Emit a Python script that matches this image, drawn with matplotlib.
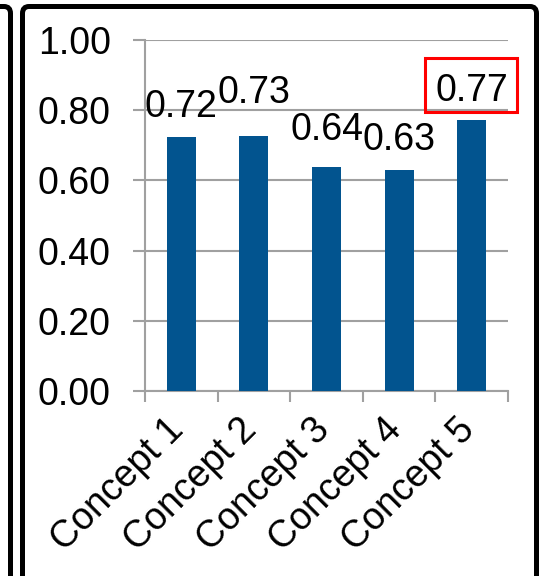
import matplotlib.pyplot as plt
import numpy as np
from matplotlib.patches import FancyBboxPatch, Rectangle
from matplotlib.transforms import ScaledTranslation

plt.rcParams['font.family'] = ['Liberation Sans', 'DejaVu Sans']

categories = ["Concept 1", "Concept 2", "Concept 3", "Concept 4", "Concept 5"]
values = [0.723, 0.727, 0.638, 0.630, 0.773]
labels = ["0.72", "0.73", "0.64", "0.63", "0.77"]
label_lift = [20, 33, 27, 20, 19]   # label baseline above bar top, px
y_ticks = [0.0, 0.2, 0.4, 0.6, 0.8, 1.0]

bar_color = "#02548F"
grid_color = "#A0A0A0"
fs = 27

fig = plt.figure(figsize=(5.41, 5.76), dpi=100)
ax = fig.add_axes([145 / 541, 185 / 576, 363 / 541, 351 / 576])

x = np.arange(len(categories))
ax.bar(x, values, width=0.4, color=bar_color, zorder=3)

ax.set_xlim(-0.5, len(categories) - 0.5)
ax.set_ylim(0, 1.0)
ax.set_yticks(y_ticks)
ax.set_yticklabels([f"{v:.2f}" for v in y_ticks], fontsize=fs)
ax.yaxis.grid(True, color=grid_color, lw=1.5, zorder=0)
ax.tick_params(axis='y', length=8.6, width=1.5, color=grid_color, pad=16)

ax.set_xticks(x)
ax.set_xticklabels(categories, fontsize=fs, rotation=45, ha='right', va='top')
ax.set_xticks(np.arange(len(categories) + 1) - 0.5, minor=True)
ax.tick_params(axis='x', which='major', length=0, pad=15)
ax.tick_params(axis='x', which='minor', length=8, width=1.5, color=grid_color)
shift = ScaledTranslation(10 / 100, 0, fig.dpi_scale_trans)
for lab in ax.get_xticklabels():
    lab.set_transform(lab.get_transform() + shift)

for s in ['top', 'right']:
    ax.spines[s].set_visible(False)
for s in ['left', 'bottom']:
    ax.spines[s].set_color(grid_color)
    ax.spines[s].set_linewidth(1.5)

texts = []
for xi, v, lab, lift in zip(x, values, labels, label_lift):
    t = ax.annotate(lab, (xi, v), xytext=(0, lift * 0.72), textcoords='offset points',
                    ha='center', va='baseline', fontsize=fs, zorder=4)
    texts.append(t)

# frames around the panel
fig.patches.append(FancyBboxPatch((22.5 / 541, -0.1), (536.5 - 22.5) / 541, (569.5 / 576) + 0.1,
                                  boxstyle="round,pad=0,rounding_size=0.012",
                                  transform=fig.transFigure, fill=False, ec='black', lw=3.6))
fig.patches.append(FancyBboxPatch((-0.2, -0.1), 0.2 + 10.5 / 541, (569.5 / 576) + 0.1,
                                  boxstyle="round,pad=0,rounding_size=0.012",
                                  transform=fig.transFigure, fill=False, ec='black', lw=3.6))

# red highlight box round the last label
fig.canvas.draw()
bb = texts[-1].get_window_extent()
fig.patches.append(Rectangle((bb.x0 - 10, bb.y0 - 3.5), bb.width + 19, bb.height + 18,
                             transform=None, fill=False, ec='red', lw=2.2))

fig.savefig("out.png", dpi=100)
